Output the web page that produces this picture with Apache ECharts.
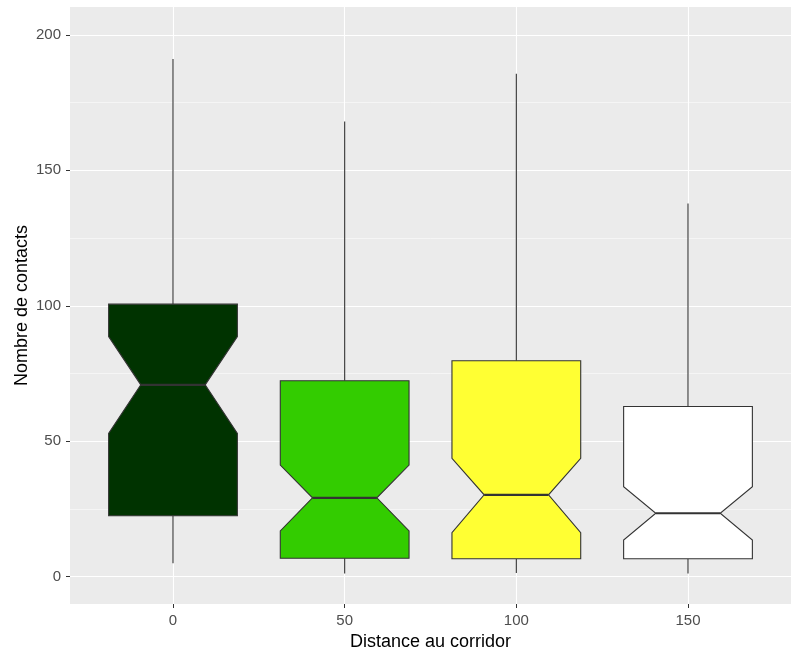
<!DOCTYPE html>
<html><head><meta charset="utf-8">
<script src="https://cdn.jsdelivr.net/npm/echarts@6/dist/echarts.min.js"></script>
<style>html,body{margin:0;padding:0;background:#fff}#c{width:798px;height:653px}</style>
</head><body><div id="c"></div>
<script>
var categories = ['0', '50', '100', '150'];
var whiskerLow = [4.9, 1.2, 1.3, 1.2];
var q1 = [22.5, 6.8, 6.6, 6.6];
var notchLow = [52.9, 16.9, 16.2, 13.5];
var median = [70.8, 29.1, 30.2, 23.4];
var notchHigh = [88.6, 41.2, 43.7, 33.2];
var q3 = [100.6, 72.3, 79.7, 62.8];
var whiskerHigh = [191.1, 168.0, 185.7, 137.8];
var fills = ['#003300', '#33CC00', '#FFFF33', '#FFFFFF'];
var yTicks = [0, 50, 100, 150, 200];
var yMinor = [25, 75, 125, 175];
var xTicks = [1, 2, 3, 4];

var data = categories.map(function (c, i) {
  return [i + 1, whiskerLow[i], q1[i], notchLow[i], median[i], notchHigh[i], q3[i], whiskerHigh[i]];
});

var chart = echarts.init(document.getElementById('c'), null, {renderer: 'canvas'});
var font = "'Liberation Sans', Arial, sans-serif";
chart.setOption({
  animation: false,
  backgroundColor: '#ffffff',
  grid: {left: 70, right: 7, top: 7, bottom: 49, show: true, backgroundColor: '#EBEBEB', borderWidth: 0,
    containLabel: false, outerBoundsMode: 'none'},
  xAxis: {
    type: 'value', min: 0.4, max: 4.6,
    axisLine: {show: false, onZero: false},
    axisTick: {show: true, length: 4, lineStyle: {color: '#333333', width: 1}, customValues: xTicks},
    axisLabel: {customValues: xTicks, color: '#4D4D4D', fontSize: 15, fontFamily: font, margin: 9,
      formatter: function (v) { return categories[Math.round(v) - 1]; }},
    splitLine: {show: true, lineStyle: {color: '#FFFFFF', width: 1.1}},
    name: 'Distance au corridor', nameLocation: 'middle', nameGap: 28,
    nameTextStyle: {color: '#000000', fontSize: 18, fontFamily: font}
  },
  yAxis: [{
    type: 'value', min: -10.1, max: 210.3,
    axisLine: {show: false, onZero: false},
    axisTick: {show: true, length: 4, lineStyle: {color: '#333333', width: 1}, customValues: yTicks},
    axisLabel: {customValues: yTicks, color: '#4D4D4D', fontSize: 15, fontFamily: font, margin: 9},
    splitLine: {show: true, lineStyle: {color: '#FFFFFF', width: 1.1}},
    name: 'Nombre de contacts', nameLocation: 'middle', nameGap: 39, nameMoveOverlap: false,
    nameTextStyle: {color: '#000000', fontSize: 18, fontFamily: font}
  }, {
    type: 'value', min: -10.1, max: 210.3, position: 'left',
    axisLine: {show: false, onZero: false},
    axisTick: {show: false, customValues: yMinor},
    axisLabel: {show: false, customValues: yMinor},
    splitLine: {show: true, lineStyle: {color: '#FFFFFF', width: 0.5}}
  }],
  series: [{
    type: 'custom',
    yAxisIndex: 0,
    data: data,
    renderItem: function (params, api) {
      var x = api.value(0), hw = 0.375;
      var wl = api.value(1), b1 = api.value(2), nl = api.value(3), md = api.value(4), nh = api.value(5), b3 = api.value(6), wh = api.value(7);
      var P = function (dx, y) { return api.coord([x + dx, y]); };
      var stroke = '#333333';
      var pts = [P(-hw, b3), P(hw, b3), P(hw, nh), P(hw / 2, md), P(hw, nl), P(hw, b1), P(-hw, b1), P(-hw, nl), P(-hw / 2, md), P(-hw, nh)];
      return {
        type: 'group',
        children: [
          {type: 'line', shape: {x1: P(0, b3)[0], y1: P(0, b3)[1], x2: P(0, wh)[0], y2: P(0, wh)[1]}, style: {stroke: stroke, lineWidth: 1.1}},
          {type: 'line', shape: {x1: P(0, b1)[0], y1: P(0, b1)[1], x2: P(0, wl)[0], y2: P(0, wl)[1]}, style: {stroke: stroke, lineWidth: 1.1}},
          {type: 'polygon', shape: {points: pts}, style: {fill: fills[params.dataIndex], stroke: stroke, lineWidth: 1.1}},
          {type: 'line', shape: {x1: P(-hw / 2, md)[0], y1: P(-hw / 2, md)[1], x2: P(hw / 2, md)[0], y2: P(hw / 2, md)[1]}, style: {stroke: stroke, lineWidth: 2.2}}
        ]
      };
    }
  }]
});
</script></body></html>
